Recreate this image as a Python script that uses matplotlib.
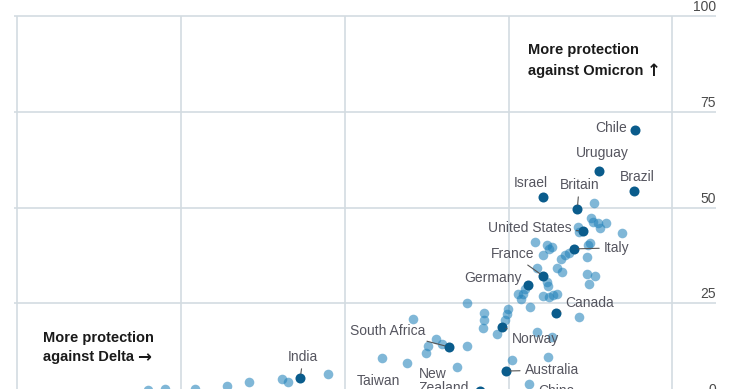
import matplotlib
matplotlib.use("Agg")
import matplotlib.pyplot as plt

plt.rcParams['font.family'] = ['Liberation Sans', 'DejaVu Sans']

# ---- data: protection against Delta (x) vs Omicron (y), % ----
countries = ["Chile", "Uruguay", "Brazil", "Israel", "Britain", "United States",
             "Italy", "France", "Germany", "Canada", "Norway", "South Africa",
             "Australia", "New Zealand", "India", "Taiwan", "China"]
delta_lab = [94.3, 88.8, 94.2, 80.3, 85.5, 86.3, 85.0, 80.3, 78.0, 82.3, 74.0,
             65.9, 74.6, 70.6, 43.2, 55.4, 77.8]
omicron_lab = [70.2, 59.5, 54.3, 52.7, 49.6, 43.9, 39.2, 32.1, 29.8, 22.5, 18.8,
               13.6, 7.3, 2.1, 5.5, 0.3, 0.3]

delta_other = [20.0, 22.6, 27.1, 32.0, 35.4, 40.4, 41.3, 47.4, 55.7, 59.5, 60.4,
               62.4, 62.7, 63.9, 64.8, 67.1, 68.7, 68.7, 71.3, 71.3, 71.1, 73.2,
               74.9, 74.8, 74.5, 75.5, 78.1, 81.0, 79.3, 81.6, 85.8, 78.3, 76.5,
               77.5, 76.9, 77.2, 80.3, 81.2, 81.8, 82.4, 80.9, 81.0, 79.3, 82.4,
               83.2, 87.0, 88.2, 87.3, 87.0, 83.0, 83.6, 84.2, 79.0, 80.9, 81.6,
               81.2, 80.3, 87.4, 87.1, 85.8, 85.6, 87.6, 87.9, 88.7, 89.9, 88.9,
               92.3, 88.0]
omicron_other = [2.3, 2.6, 2.6, 3.4, 4.4, 5.2, 4.4, 6.5, 10.7, 9.4, 20.9,
                 12.0, 13.8, 15.7, 14.4, 8.4, 13.8, 25.1, 22.5, 20.6, 18.5, 17.0,
                 23.5, 22.2, 20.6, 10.2, 3.9, 11.0, 17.5, 16.2, 21.4, 24.0, 27.4,
                 28.7, 26.1, 27.4, 26.9, 26.6, 27.2, 27.4, 30.5, 29.5, 34.2, 34.2,
                 33.2, 32.6, 32.1, 30.0, 37.1, 36.6, 37.6, 38.1, 41.0, 40.2, 39.7,
                 39.2, 37.6, 40.7, 40.2, 43.6, 44.9, 47.3, 46.2, 46.0, 46.0, 44.6,
                 43.3, 51.2]

y_ticks = [0, 25, 50, 75, 100]
x_grid = [0, 25, 50, 75, 100]

# label placement (offset in pixels from the dot, alignment, leader line)
label_style = {
    "Chile": ((-8, 2), 'right', False),
    "Uruguay": ((3, 18), 'center', False),
    "Brazil": ((3, 14), 'center', False),
    "Israel": ((-12, 14), 'center', False),
    "Britain": ((2, 24), 'center', True),
    "United States": ((-11, 3), 'right', True),
    "Italy": ((30, 1), 'left', True),
    "France": ((-31, 22), 'center', True),
    "Germany": ((-6, 7), 'right', False),
    "Canada": ((9, 10), 'left', True),
    "Norway": ((10, -12), 'left', True),
    "South Africa": ((-24, 16), 'right', True),
    "Australia": ((19, 1), 'left', True),
    "New Zealand": ((-61, 10), 'left', False),
    "India": ((3, 21), 'center', True),
    "Taiwan": ((-2, 17), 'center', False),
    "China": ((11, 7), 'left', False),
}

W, H = 740, 389
fig = plt.figure(figsize=(W / 100, H / 100), dpi=100)
ax = fig.add_axes([0, 0, 1, 1])
ax.set_xlim(-2.634, 110.34)
ax.set_ylim(2.611, 104.18)
ax.axis('off')

grid_c = '#d3dbe1'
for yv in y_ticks:
    ax.plot([-0.5, 106.7], [yv, yv], color=grid_c, lw=1.2, zorder=1,
            solid_capstyle='butt')
    ax.text(106.7, yv + 1.3, str(yv), ha='right', va='baseline',
            fontsize=10, color='#4a4a4a')
for xv in x_grid:
    ax.plot([xv, xv], [-5, 100], color=grid_c, lw=1.2, zorder=1,
            solid_capstyle='butt')

ax.scatter(delta_other, omicron_other, s=48, color='#2483bb', alpha=0.58,
           linewidths=0, zorder=2)
ax.scatter(delta_lab, omicron_lab, s=52, color='#0a5c8c', linewidths=0,
           zorder=4)

lab_color = '#55555f'
for name, xv, yv in zip(countries, delta_lab, omicron_lab):
    (dx, dy), ha, leader = label_style[name]
    text = name.replace("New Zealand", "New\nZealand")
    kw = {}
    if leader:
        kw['arrowprops'] = dict(arrowstyle='-', color='#555555', lw=0.8,
                                shrinkA=1.5, shrinkB=3)
    ax.annotate(text, xy=(xv, yv), xytext=(dx, dy), textcoords='offset pixels',
                ha=ha, va='center', fontsize=10, color=lab_color, zorder=5,
                linespacing=1.05, annotation_clip=False, **kw)


def note(x_px, y1_px, y2_px, line1, line2, arrow):
    kw = dict(transform=fig.transFigure, ha='left', va='center',
              fontsize=10.5, fontweight='bold', color='#1a1a1a')
    ax.text(x_px / W, 1 - y1_px / H, line1, **kw)
    t2 = ax.text(x_px / W, 1 - y2_px / H, line2, **kw)
    ax.annotate(arrow, xy=(1, 0.5), xycoords=t2, xytext=(3, 0),
                textcoords='offset pixels', ha='left', va='center',
                fontsize=12, fontweight='bold', fontfamily='DejaVu Sans',
                color='#1a1a1a')


note(528, 50, 71, "More protection", "against Omicron", "\u2191")
note(43, 338, 357, "More protection", "against Delta", "\u2192")

fig.savefig("out.png", dpi=100)
